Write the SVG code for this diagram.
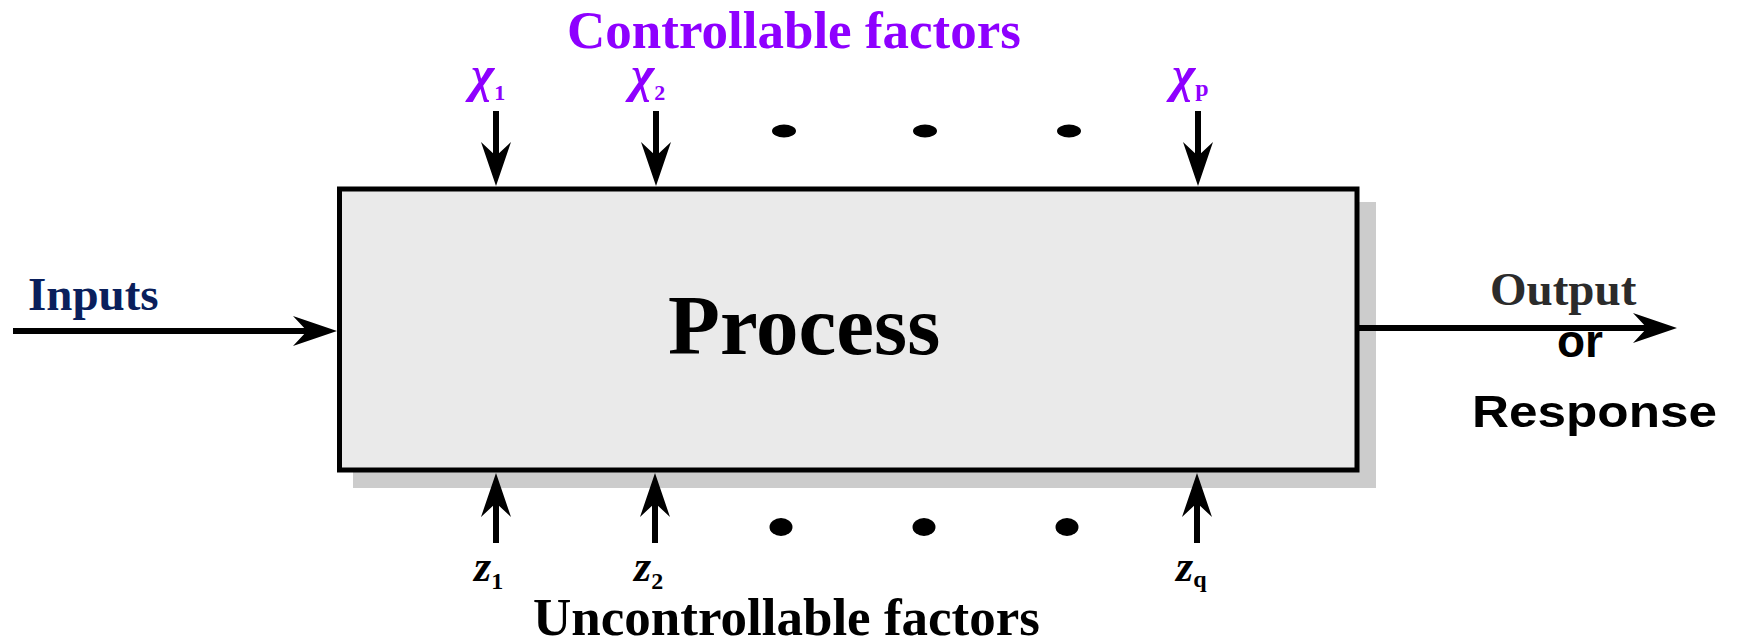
<svg xmlns="http://www.w3.org/2000/svg" width="1737" height="643" viewBox="0 0 1737 643">
<style>
.serif{font-family:"Liberation Serif","Times New Roman",serif;font-weight:bold}
.sans{font-family:"Liberation Sans",Arial,sans-serif;font-weight:bold}
.purple{fill:#8e00ff}
.conn{stroke:#000;stroke-width:6;fill:none}
.dot{fill:#000}
</style>
<defs>
<marker id="ah" markerUnits="userSpaceOnUse" viewBox="-46 -16 50 32" markerWidth="50" markerHeight="32" refX="-30" refY="0" orient="auto">
<path d="M0,0 L-44,-15 L-30,0 L-44,15 Z" fill="#000"/>
</marker>
</defs>
<rect width="1737" height="643" fill="#fff"/>
<g id="process">
<rect x="353" y="202" width="1023" height="286" fill="#cccccc"/>
<rect x="339.5" y="189" width="1017.5" height="281" fill="#eaeaea" stroke="#000" stroke-width="5"/>
<text class="serif" x="668" y="354" font-size="85">Process</text>
</g>
<g id="controllable">
<text class="serif purple" x="567" y="48" font-size="53">Controllable factors</text>
<text class="serif purple" x="471" y="91" font-size="50" font-style="italic">χ<tspan font-size="22" font-style="normal" dy="9">1</tspan></text>
<text class="serif purple" x="631" y="91" font-size="50" font-style="italic">χ<tspan font-size="22" font-style="normal" dy="9">2</tspan></text>
<text class="serif purple" x="1172" y="91" font-size="50" font-style="italic">χ<tspan font-size="24" font-style="normal" dy="5">p</tspan></text>
<ellipse class="dot" cx="784" cy="131" rx="12" ry="6.5"/>
<ellipse class="dot" cx="925" cy="131" rx="12" ry="6.5"/>
<ellipse class="dot" cx="1069" cy="131" rx="12" ry="6.5"/>
</g>
<g id="uncontrollable">
<text class="serif" x="533" y="635" font-size="53">Uncontrollable factors</text>
<text class="serif" x="474" y="581" font-size="44" font-style="italic">z<tspan font-size="24" font-style="normal" dy="8">1</tspan></text>
<text class="serif" x="634" y="581" font-size="44" font-style="italic">z<tspan font-size="24" font-style="normal" dy="8">2</tspan></text>
<text class="serif" x="1176" y="581" font-size="44" font-style="italic">z<tspan font-size="24" font-style="normal" dy="6">q</tspan></text>
<ellipse class="dot" cx="781" cy="527" rx="11.5" ry="9"/>
<ellipse class="dot" cx="924" cy="527" rx="11.5" ry="9"/>
<ellipse class="dot" cx="1067" cy="527" rx="11.5" ry="9"/>
</g>
<g id="inputs">
<text class="serif" x="28" y="310" font-size="47" fill="#0a1f5c">Inputs</text>
</g>
<g id="output">
<text class="serif" x="1490" y="305" font-size="47" fill="#2b2b2b">Output</text>
<text class="sans" x="1557" y="357" font-size="46">or</text>
<text class="sans" x="1472" y="427" font-size="45" textLength="245" lengthAdjust="spacingAndGlyphs">Response</text>
</g>
<g id="connectors">
<line class="conn" x1="13" y1="331" x2="307" y2="331" marker-end="url(#ah)"/>
<line class="conn" x1="1358" y1="328" x2="1647" y2="328" marker-end="url(#ah)"/>
<line class="conn" x1="496" y1="111" x2="496" y2="156" marker-end="url(#ah)"/>
<line class="conn" x1="656" y1="111" x2="656" y2="156" marker-end="url(#ah)"/>
<line class="conn" x1="1198" y1="111" x2="1198" y2="156" marker-end="url(#ah)"/>
<line class="conn" x1="496" y1="543" x2="496" y2="503" marker-end="url(#ah)"/>
<line class="conn" x1="655" y1="543" x2="655" y2="503" marker-end="url(#ah)"/>
<line class="conn" x1="1197" y1="543" x2="1197" y2="503" marker-end="url(#ah)"/>
</g>
</svg>
